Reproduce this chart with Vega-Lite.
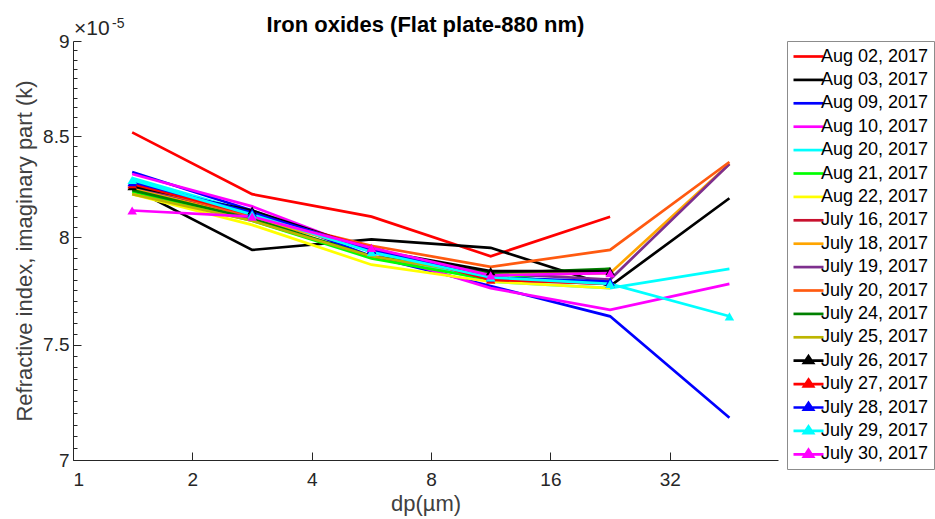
{
  "$schema": "https://vega.github.io/schema/vega-lite/v6.json",
  "autosize": "none",
  "width": 705,
  "height": 419,
  "padding": {"left": 73, "top": 41, "right": 157, "bottom": 59},
  "background": "white",
  "title": {"text": "Iron oxides (Flat plate-880 nm)", "font": "Liberation Sans", "fontSize": 22, "fontWeight": "bold", "color": "#000000", "anchor": "middle", "frame": "group", "baseline": "alphabetic", "offset": -37},
  "config": {
    "view": {"stroke": null},
    "axis": {"labelFont": "Liberation Sans", "titleFont": "Liberation Sans", "titleFontWeight": "normal", "domainColor": "#262626", "tickColor": "#262626", "labelColor": "#262626", "titleColor": "#404040", "grid": false, "domainWidth": 1, "tickWidth": 1}
  },
  "datasets": {
    "series": [
      {"date": "Aug 02, 2017", "dp": 1.41, "k": 8.52e-5}, {"date": "Aug 02, 2017", "dp": 2.83, "k": 8.21e-5}, {"date": "Aug 02, 2017", "dp": 5.66, "k": 8.10e-5}, {"date": "Aug 02, 2017", "dp": 11.31, "k": 7.91e-5}, {"date": "Aug 02, 2017", "dp": 22.63, "k": 8.10e-5},
      {"date": "Aug 03, 2017", "dp": 1.41, "k": 8.24e-5}, {"date": "Aug 03, 2017", "dp": 2.83, "k": 7.94e-5}, {"date": "Aug 03, 2017", "dp": 5.66, "k": 7.99e-5}, {"date": "Aug 03, 2017", "dp": 11.31, "k": 7.95e-5}, {"date": "Aug 03, 2017", "dp": 22.63, "k": 7.77e-5}, {"date": "Aug 03, 2017", "dp": 45.25, "k": 8.19e-5},
      {"date": "Aug 09, 2017", "dp": 1.41, "k": 8.32e-5}, {"date": "Aug 09, 2017", "dp": 2.83, "k": 8.13e-5}, {"date": "Aug 09, 2017", "dp": 5.66, "k": 7.91e-5}, {"date": "Aug 09, 2017", "dp": 11.31, "k": 7.77e-5}, {"date": "Aug 09, 2017", "dp": 22.63, "k": 7.63e-5}, {"date": "Aug 09, 2017", "dp": 45.25, "k": 7.18e-5},
      {"date": "Aug 10, 2017", "dp": 1.41, "k": 8.31e-5}, {"date": "Aug 10, 2017", "dp": 2.83, "k": 8.15e-5}, {"date": "Aug 10, 2017", "dp": 5.66, "k": 7.93e-5}, {"date": "Aug 10, 2017", "dp": 11.31, "k": 7.76e-5}, {"date": "Aug 10, 2017", "dp": 22.63, "k": 7.66e-5}, {"date": "Aug 10, 2017", "dp": 45.25, "k": 7.78e-5},
      {"date": "Aug 20, 2017", "dp": 1.41, "k": 8.29e-5}, {"date": "Aug 20, 2017", "dp": 2.83, "k": 8.12e-5}, {"date": "Aug 20, 2017", "dp": 5.66, "k": 7.93e-5}, {"date": "Aug 20, 2017", "dp": 11.31, "k": 7.79e-5}, {"date": "Aug 20, 2017", "dp": 22.63, "k": 7.76e-5}, {"date": "Aug 20, 2017", "dp": 45.25, "k": 7.85e-5},
      {"date": "Aug 21, 2017", "dp": 1.41, "k": 8.22e-5}, {"date": "Aug 21, 2017", "dp": 2.83, "k": 8.08e-5}, {"date": "Aug 21, 2017", "dp": 5.66, "k": 7.90e-5}, {"date": "Aug 21, 2017", "dp": 11.31, "k": 7.80e-5}, {"date": "Aug 21, 2017", "dp": 22.63, "k": 7.85e-5},
      {"date": "Aug 22, 2017", "dp": 1.41, "k": 8.21e-5}, {"date": "Aug 22, 2017", "dp": 2.83, "k": 8.06e-5}, {"date": "Aug 22, 2017", "dp": 5.66, "k": 7.87e-5}, {"date": "Aug 22, 2017", "dp": 11.31, "k": 7.79e-5}, {"date": "Aug 22, 2017", "dp": 22.63, "k": 7.76e-5},
      {"date": "July 16, 2017", "dp": 1.41, "k": 8.25e-5}, {"date": "July 16, 2017", "dp": 2.83, "k": 8.10e-5}, {"date": "July 16, 2017", "dp": 5.66, "k": 7.95e-5}, {"date": "July 16, 2017", "dp": 11.31, "k": 7.80e-5}, {"date": "July 16, 2017", "dp": 22.63, "k": 7.78e-5},
      {"date": "July 18, 2017", "dp": 1.41, "k": 8.24e-5}, {"date": "July 18, 2017", "dp": 2.83, "k": 8.09e-5}, {"date": "July 18, 2017", "dp": 5.66, "k": 7.94e-5}, {"date": "July 18, 2017", "dp": 11.31, "k": 7.82e-5}, {"date": "July 18, 2017", "dp": 22.63, "k": 7.83e-5}, {"date": "July 18, 2017", "dp": 45.25, "k": 8.36e-5},
      {"date": "July 19, 2017", "dp": 1.41, "k": 8.25e-5}, {"date": "July 19, 2017", "dp": 2.83, "k": 8.11e-5}, {"date": "July 19, 2017", "dp": 5.66, "k": 7.94e-5}, {"date": "July 19, 2017", "dp": 11.31, "k": 7.83e-5}, {"date": "July 19, 2017", "dp": 22.63, "k": 7.80e-5}, {"date": "July 19, 2017", "dp": 45.25, "k": 8.36e-5},
      {"date": "July 20, 2017", "dp": 1.41, "k": 8.26e-5}, {"date": "July 20, 2017", "dp": 2.83, "k": 8.10e-5}, {"date": "July 20, 2017", "dp": 5.66, "k": 7.96e-5}, {"date": "July 20, 2017", "dp": 11.31, "k": 7.86e-5}, {"date": "July 20, 2017", "dp": 22.63, "k": 7.94e-5}, {"date": "July 20, 2017", "dp": 45.25, "k": 8.37e-5},
      {"date": "July 24, 2017", "dp": 1.41, "k": 8.23e-5}, {"date": "July 24, 2017", "dp": 2.83, "k": 8.09e-5}, {"date": "July 24, 2017", "dp": 5.66, "k": 7.91e-5}, {"date": "July 24, 2017", "dp": 11.31, "k": 7.83e-5}, {"date": "July 24, 2017", "dp": 22.63, "k": 7.85e-5},
      {"date": "July 25, 2017", "dp": 1.41, "k": 8.21e-5}, {"date": "July 25, 2017", "dp": 2.83, "k": 8.08e-5}, {"date": "July 25, 2017", "dp": 5.66, "k": 7.91e-5}, {"date": "July 25, 2017", "dp": 11.31, "k": 7.82e-5}, {"date": "July 25, 2017", "dp": 22.63, "k": 7.84e-5},
      {"date": "July 26, 2017", "dp": 1.41, "k": 8.25e-5}, {"date": "July 26, 2017", "dp": 2.83, "k": 8.13e-5}, {"date": "July 26, 2017", "dp": 5.66, "k": 7.94e-5}, {"date": "July 26, 2017", "dp": 11.31, "k": 7.84e-5}, {"date": "July 26, 2017", "dp": 22.63, "k": 7.84e-5},
      {"date": "July 27, 2017", "dp": 1.41, "k": 8.26e-5}, {"date": "July 27, 2017", "dp": 2.83, "k": 8.11e-5}, {"date": "July 27, 2017", "dp": 5.66, "k": 7.95e-5}, {"date": "July 27, 2017", "dp": 11.31, "k": 7.80e-5}, {"date": "July 27, 2017", "dp": 22.63, "k": 7.78e-5},
      {"date": "July 28, 2017", "dp": 1.41, "k": 8.27e-5}, {"date": "July 28, 2017", "dp": 2.83, "k": 8.12e-5}, {"date": "July 28, 2017", "dp": 5.66, "k": 7.94e-5}, {"date": "July 28, 2017", "dp": 11.31, "k": 7.81e-5}, {"date": "July 28, 2017", "dp": 22.63, "k": 7.79e-5},
      {"date": "July 29, 2017", "dp": 1.41, "k": 8.28e-5}, {"date": "July 29, 2017", "dp": 2.83, "k": 8.11e-5}, {"date": "July 29, 2017", "dp": 5.66, "k": 7.93e-5}, {"date": "July 29, 2017", "dp": 11.31, "k": 7.81e-5}, {"date": "July 29, 2017", "dp": 22.63, "k": 7.78e-5}, {"date": "July 29, 2017", "dp": 45.25, "k": 7.63e-5},
      {"date": "July 30, 2017", "dp": 1.41, "k": 8.13e-5}, {"date": "July 30, 2017", "dp": 2.83, "k": 8.10e-5}, {"date": "July 30, 2017", "dp": 5.66, "k": 7.95e-5}, {"date": "July 30, 2017", "dp": 11.31, "k": 7.82e-5}, {"date": "July 30, 2017", "dp": 22.63, "k": 7.83e-5}
    ]
  },
  "layer": [
    {
      "data": {"name": "series"},
      "mark": {"type": "line", "strokeWidth": 2.7, "clip": false},
      "encoding": {
        "x": {"field": "dp", "type": "quantitative", "title": "dp(µm)",
          "scale": {"type": "log", "base": 2, "domain": [1, 60], "nice": false},
          "axis": {"values": [1, 2, 4, 8, 16, 32], "format": "~g", "labelFontSize": 19, "titleFontSize": 22, "tickSize": -8, "labelPadding": 18, "titlePadding": 4}},
        "y": {"field": "k", "type": "quantitative", "title": "Refractive index, imaginary part (k)",
          "scale": {"type": "log", "domain": [7e-5, 9e-5], "nice": false, "zero": false},
          "axis": {
            "values": [7e-5, 7.05e-5, 7.1e-5, 7.15e-5, 7.2e-5, 7.25e-5, 7.3e-5, 7.35e-5, 7.4e-5, 7.45e-5, 7.5e-5, 7.55e-5, 7.6e-5, 7.65e-5, 7.7e-5, 7.75e-5, 7.8e-5, 7.85e-5, 7.9e-5, 7.95e-5, 8e-5, 8.05e-5, 8.1e-5, 8.15e-5, 8.2e-5, 8.25e-5, 8.3e-5, 8.35e-5, 8.4e-5, 8.45e-5, 8.5e-5, 8.55e-5, 8.6e-5, 8.65e-5, 8.7e-5, 8.75e-5, 8.8e-5, 8.85e-5, 8.9e-5, 8.95e-5, 9e-5],
            "labelExpr": "abs(datum.value*2e5 - round(datum.value*2e5)) < 0.01 ? format(datum.value*1e5, '~g') : ''",
            "tickSize": {"condition": {"test": "abs(datum.value*2e5 - round(datum.value*2e5)) < 0.01", "value": -8}, "value": -4},
            "labelFontSize": 19, "titleFontSize": 22, "labelPadding": 12, "titlePadding": 6, "labelOverlap": false}},
        "color": {"field": "date", "type": "nominal",
          "scale": {
            "domain": ["Aug 02, 2017", "Aug 03, 2017", "Aug 09, 2017", "Aug 10, 2017", "Aug 20, 2017", "Aug 21, 2017", "Aug 22, 2017", "July 16, 2017", "July 18, 2017", "July 19, 2017", "July 20, 2017", "July 24, 2017", "July 25, 2017", "July 26, 2017", "July 27, 2017", "July 28, 2017", "July 29, 2017", "July 30, 2017"],
            "range": ["#FF0000", "#000000", "#0000FF", "#FF00FF", "#00FFFF", "#00FF00", "#FFFF00", "#C8102E", "#FFA500", "#7E2F8E", "#FF5A10", "#008000", "#BDB500", "#000000", "#FF0000", "#0000FF", "#00FFFF", "#FF00FF"]},
          "legend": {
            "orient": "none", "legendX": 714, "legendY": 0, "title": null,
            "strokeColor": "#8c8c8c", "fillColor": "white", "padding": 5,
            "labelFont": "Liberation Sans", "labelFontSize": 18, "labelColor": "#000000",
            "symbolSize": 324, "symbolOffset": 6, "labelOffset": 2, "rowPadding": 3.4, "symbolStrokeWidth": 2.5, "symbolLimit": 0,
            "encoding": {
              "symbols": {
                "shape": {"condition": {"test": "indexof(['July 26, 2017','July 27, 2017','July 28, 2017','July 29, 2017','July 30, 2017'], datum.value) >= 0", "value": "M-1.667,0H1.667M0,-0.5L0.5,0.25L-0.5,0.25Z"}, "value": "M-1.667,0H1.667"},
                "fill": {"condition": {"test": "indexof(['July 26, 2017','July 27, 2017','July 28, 2017','July 29, 2017','July 30, 2017'], datum.value) >= 0", "value": {"expr": "scale('color', datum.value)"}}, "value": "transparent"},
                "stroke": {"value": {"expr": "scale('color', datum.value)"}},
                "strokeWidth": {"value": 2.7}
              }
            }
          }}
      }
    },
    {
      "data": {"name": "series"},
      "transform": [{"filter": {"field": "date", "oneOf": ["July 26, 2017", "July 27, 2017", "July 28, 2017", "July 29, 2017", "July 30, 2017"]}}],
      "mark": {"type": "point", "shape": "triangle-up", "filled": true, "size": 90, "opacity": 1, "clip": false},
      "encoding": {
        "x": {"field": "dp", "type": "quantitative"},
        "y": {"field": "k", "type": "quantitative"},
        "color": {"field": "date", "type": "nominal"}
      }
    },
    {
      "data": {"values": [{}]},
      "mark": {"type": "text", "text": "×10", "align": "left", "baseline": "alphabetic", "dx": 1, "dy": -6, "font": "Liberation Sans", "fontSize": 21, "color": "#262626"},
      "encoding": {"x": {"datum": 1, "type": "quantitative"}, "y": {"datum": 9e-5, "type": "quantitative"}}
    },
    {
      "data": {"values": [{}]},
      "mark": {"type": "text", "text": "-5", "align": "left", "baseline": "alphabetic", "dx": 39, "dy": -13, "font": "Liberation Sans", "fontSize": 14, "color": "#262626"},
      "encoding": {"x": {"datum": 1, "type": "quantitative"}, "y": {"datum": 9e-5, "type": "quantitative"}}
    }
  ]
}
